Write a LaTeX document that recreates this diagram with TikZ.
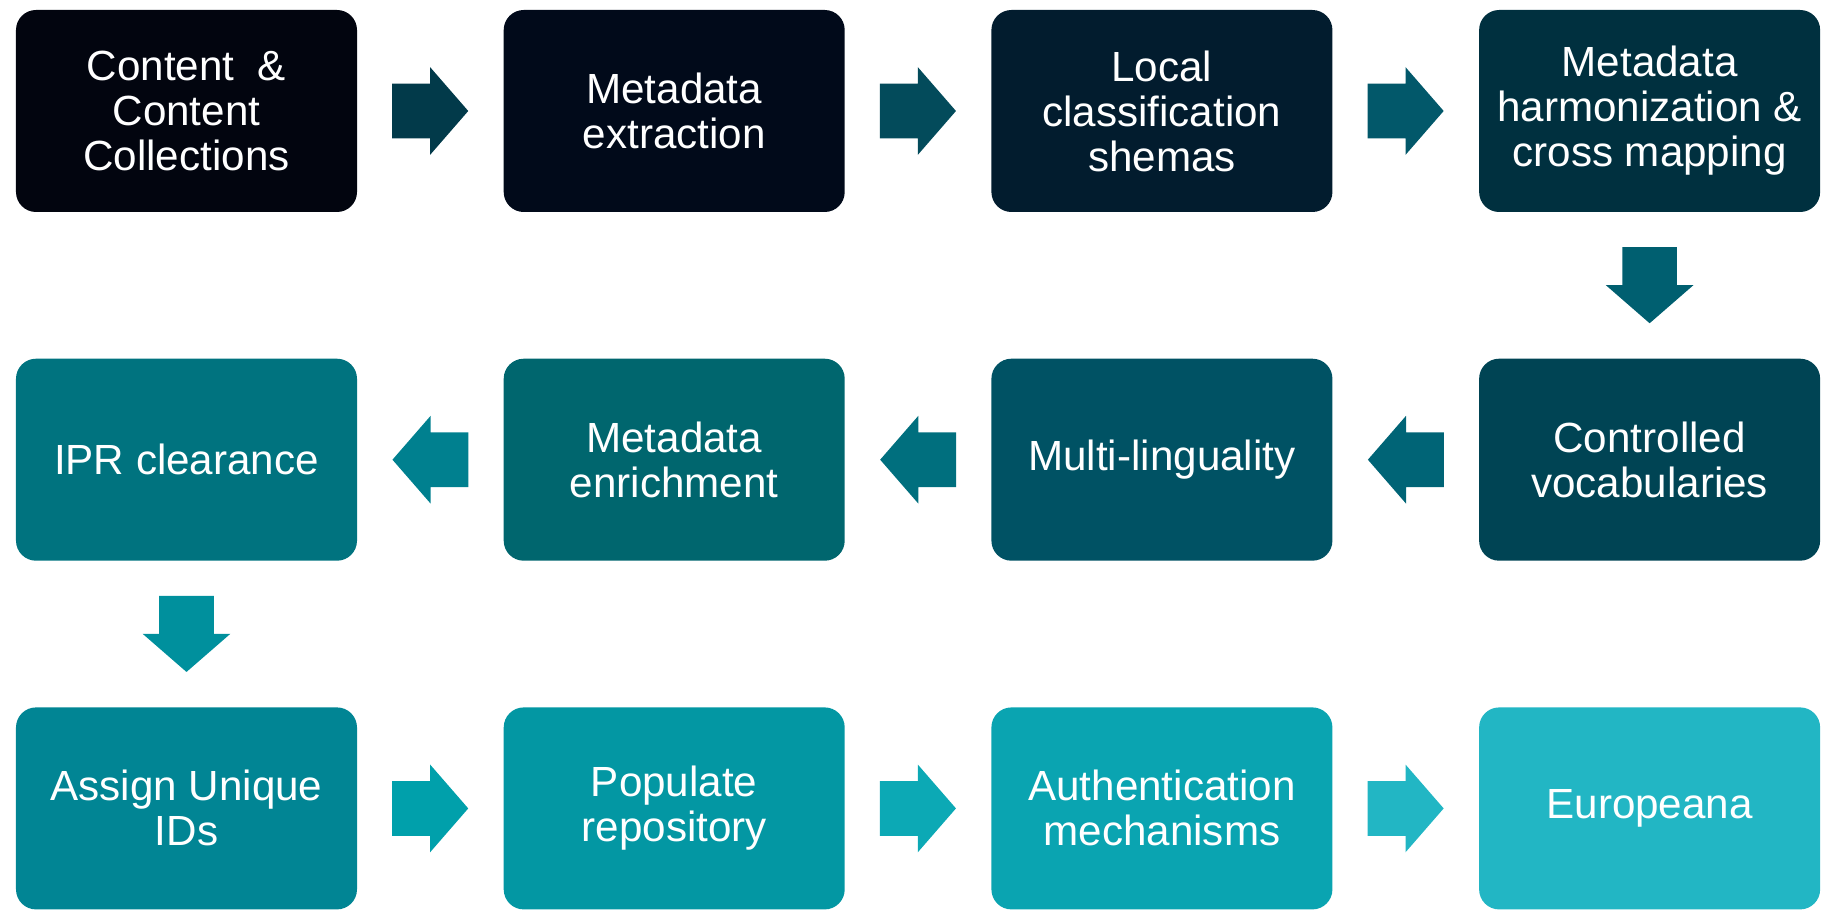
\documentclass[tikz,border=0pt]{standalone}
\usepackage{fontspec}
\setmainfont{Liberation Sans}
\usetikzlibrary{positioning, shapes.arrows}
\usepackage{xcolor}
% box colours, dark to light
\definecolor{StepA}{HTML}{02050F}
\definecolor{StepB}{HTML}{010A1A}
\definecolor{StepC}{HTML}{021C2E}
\definecolor{StepD}{HTML}{00303F}
\definecolor{StepE}{HTML}{004454}
\definecolor{StepF}{HTML}{005264}
\definecolor{StepG}{HTML}{00666E}
\definecolor{StepH}{HTML}{00737F}
\definecolor{StepI}{HTML}{018594}
\definecolor{StepJ}{HTML}{0397A3}
\definecolor{StepK}{HTML}{0AA4B1}
\definecolor{StepL}{HTML}{22B6C4}
% arrow colours
\definecolor{FlowA}{HTML}{023A4A}
\definecolor{FlowB}{HTML}{034B5B}
\definecolor{FlowC}{HTML}{02586A}
\definecolor{FlowD}{HTML}{005F70}
\definecolor{FlowE}{HTML}{006476}
\definecolor{FlowF}{HTML}{006F7E}
\definecolor{FlowG}{HTML}{00808F}
\definecolor{FlowH}{HTML}{00909D}
\definecolor{FlowI}{HTML}{00A0AB}
\definecolor{FlowJ}{HTML}{0CA9B5}
\definecolor{FlowK}{HTML}{22B6C4}

\begin{document}
\begin{tikzpicture}[
  every node/.style={align=center},
  stepbox/.style={rectangle, rounded corners=0.4cm, fill=#1, text=white, inner sep=0pt,
    minimum width=6.82cm, minimum height=4.04cm, font=\fontsize{24}{25.6}\selectfont},
  flow/.style args={#1, #2}{single arrow, fill=#1, draw=none, inner xsep=0pt, inner ysep=0.54cm,
    minimum height=1.52cm, single arrow head extend=0.33cm,
    single arrow tip angle=98, rotate=#2, xshift=-0.24cm}
  ]
\useasboundingbox (0,0) rectangle (36.44,18.26);

% Top row, left to right
\node[stepbox=StepA] (content) at (3.73,16.04) {Content \ \&\\Content\\Collections};
\node[stepbox=StepB, right=2.92cm of content] (extract) {Metadata\\extraction};
\node[stepbox=StepC, right=2.92cm of extract] (local) {Local\\classification\\shemas};
\node[stepbox=StepD, right=2.92cm of local] (harmon) {Metadata\\harmonization \&\\cross mapping};

% Middle row, right to left
\node[stepbox=StepE, below=2.92cm of harmon] (vocab) {Controlled\\vocabularies};
\node[stepbox=StepF, left=2.92cm of vocab] (multi) {Multi-linguality};
\node[stepbox=StepG, left=2.92cm of multi] (enrich) {Metadata\\enrichment};
\node[stepbox=StepH, left=2.92cm of enrich] (ipr) {IPR clearance};

% Bottom row, left to right
\node[stepbox=StepI, below=2.92cm of ipr] (ids) {Assign Unique\\IDs};
\node[stepbox=StepJ, right=2.92cm of ids] (populate) {Populate\\repository};
\node[stepbox=StepK, right=2.92cm of populate] (auth) {Authentication\\mechanisms};
\node[stepbox=StepL, right=2.92cm of auth] (europeana) {Europeana};

% Block arrows between the steps
\path (content) -- node[flow={FlowA, 0}] (fa) {} (extract);
\path (extract) -- node[flow={FlowB, 0}] (fb) {} (local);
\path (local) -- node[flow={FlowC, 0}] (fc) {} (harmon);
\path (harmon) -- node[flow={FlowD, 270}] (fd) {} (vocab);
\path (vocab) -- node[flow={FlowE, 180}] (fe) {} (multi);
\path (multi) -- node[flow={FlowF, 180}] (ff) {} (enrich);
\path (enrich) -- node[flow={FlowG, 180}] (fg) {} (ipr);
\path (ipr) -- node[flow={FlowH, 270}] (fh) {} (ids);
\path (ids) -- node[flow={FlowI, 0}] (fi) {} (populate);
\path (populate) -- node[flow={FlowJ, 0}] (fj) {} (auth);
\path (auth) -- node[flow={FlowK, 0}] (fk) {} (europeana);
\end{tikzpicture}
\end{document}
